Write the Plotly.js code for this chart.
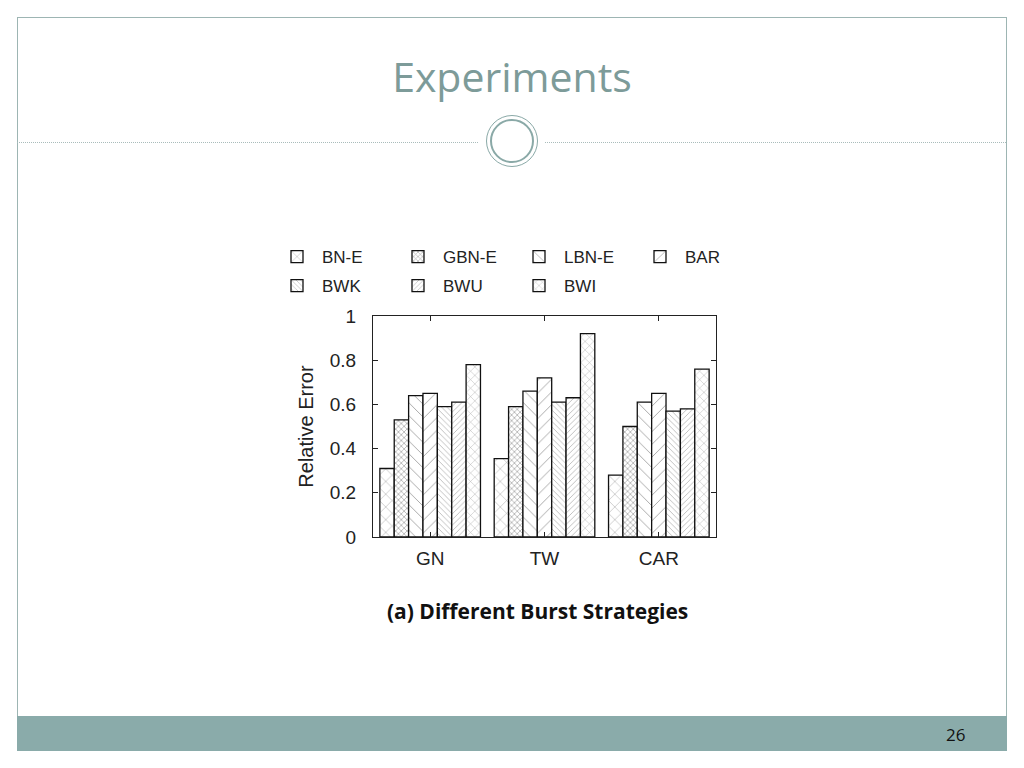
<!DOCTYPE html>
<html>
<head>
<meta charset="utf-8">
<script src="https://cdn.plot.ly/plotly-3.0.1.min.js"></script>
<style>
  html, body { margin: 0; padding: 0; background: #fff; }
  #page { position: relative; width: 1024px; height: 768px; overflow: hidden; }
  .deco { position: absolute; box-sizing: border-box; }
  #chart { position: absolute; left: 0; top: 0; width: 1024px; height: 768px; }
</style>
</head>
<body>
<div id="page">
  <div class="deco" style="left:17px;top:17px;width:990px;height:734px;border:1.5px solid #9db5b3;"></div>
  <div class="deco" style="left:17px;top:142px;width:461px;height:0;border-top:1.5px dotted #a9bcbb;"></div>
  <div class="deco" style="left:545px;top:142px;width:461px;height:0;border-top:1.5px dotted #a9bcbb;"></div>
  <div class="deco" style="left:486px;top:115px;width:52px;height:52px;border-radius:50%;border:1.5px solid #8aa9a7;"></div>
  <div class="deco" style="left:490px;top:119px;width:44px;height:44px;border-radius:50%;border:2px solid #8aa9a7;"></div>
  <div class="deco" style="left:17px;top:716px;width:990px;height:35px;background:#8aabaa;"></div>
  <div id="chart"></div>
</div>
<script>
const categories = ['GN', 'TW', 'CAR'];
const seriesNames = ['BN-E', 'GBN-E', 'LBN-E', 'BAR', 'BWK', 'BWU', 'BWI'];
const valBNE  = [0.31, 0.355, 0.28];
const valGBNE = [0.53, 0.59, 0.50];
const valLBNE = [0.64, 0.66, 0.61];
const valBAR  = [0.65, 0.72, 0.65];
const valBWK  = [0.59, 0.61, 0.57];
const valBWU  = [0.61, 0.63, 0.58];
const valBWI  = [0.78, 0.92, 0.76];
const yTicks = [0, 0.2, 0.4, 0.6, 0.8, 1];
const yTickLabels = ['0', '0.2', '0.4', '0.6', '0.8', '1'];

const seriesValues = [valBNE, valGBNE, valLBNE, valBAR, valBWK, valBWU, valBWI];
const legendRows = ['legend', 'legend', 'legend', 'legend', 'legend2', 'legend2', 'legend2'];
const patterns = [
  {shape: 'x',  size: 9, solidity: 0.12, fgcolor: '#555'},
  {shape: 'x',  size: 4, solidity: 0.35, fgcolor: '#555'},
  {shape: '\\', size: 9, solidity: 0.1, fgcolor: '#444'},
  {shape: '/',  size: 9, solidity: 0.1, fgcolor: '#444'},
  {shape: '\\', size: 4, solidity: 0.2, fgcolor: '#666'},
  {shape: '/',  size: 4, solidity: 0.2, fgcolor: '#666'},
  {shape: 'x',  size: 6, solidity: 0.14, fgcolor: '#555'}
];

const traces = seriesNames.map((name, i) => ({
  type: 'bar',
  name: name,
  x: categories,
  y: seriesValues[i],
  legend: legendRows[i],
  marker: {
    color: '#ffffff',
    line: {color: '#111', width: 1.3},
    pattern: Object.assign({fillmode: 'overlay', bgcolor: '#ffffff'}, patterns[i])
  },
  hoverinfo: 'skip'
}));

const L = 373, R = 716, T = 316, B = 537;
const px = x => (x - L) / (R - L);
const py = y => (B - y) / (B - T);

const axisFont = {family: 'Liberation Sans, Arial, sans-serif', size: 19, color: '#222'};
const titleFont = {family: 'Liberation Sans, Arial, sans-serif', size: 20, color: '#222'};
const legendFont = {family: 'Liberation Sans, Arial, sans-serif', size: 17, color: '#222'};

function legendRow(topPx) {
  return {
    orientation: 'h',
    xref: 'paper', yref: 'paper',
    x: px(272), y: py(topPx), xanchor: 'left', yanchor: 'top',
    entrywidth: 66, entrywidthmode: 'pixels',
    font: legendFont,
    bgcolor: 'rgba(0,0,0,0)',
    traceorder: 'normal',
    itemwidth: 40
  };
}

const layout = {
  width: 1024, height: 768,
  margin: {l: L, r: 1024 - R, t: T, b: 768 - B, pad: 0, autoexpand: false},
  paper_bgcolor: 'rgba(0,0,0,0)',
  plot_bgcolor: '#ffffff',
  barmode: 'group',
  bargap: 0.12,
  bargroupgap: 0,
  showlegend: true,
  title: {
    text: 'Experiments',
    font: {family: 'Open Sans, sans-serif', size: 41, color: '#7d9b99'},
    x: 512 / 1024, xref: 'container', xanchor: 'center',
    y: 1 - 78 / 768, yref: 'container', yanchor: 'middle'
  },
  legend: legendRow(239),
  legend2: legendRow(268),
  xaxis: {
    type: 'category',
    range: [-0.5, 2.5],
    showline: true, linecolor: '#222', linewidth: 1, mirror: 'ticks',
    ticks: 'inside', ticklen: 5, tickcolor: '#222',
    tickfont: axisFont,
    ticklabelstandoff: 4,
    showgrid: false, zeroline: false, fixedrange: true
  },
  yaxis: {
    range: [0, 1],
    tickvals: yTicks, ticktext: yTickLabels,
    showline: true, linecolor: '#222', linewidth: 1, mirror: 'ticks',
    ticks: 'inside', ticklen: 5, tickcolor: '#222',
    tickfont: axisFont,
    ticklabelstandoff: 12,
    showgrid: false, zeroline: false, fixedrange: true,
    title: {text: 'Relative Error', font: titleFont, standoff: 10}
  },
  annotations: [
    {
      text: '<b>(a) Different Burst Strategies</b>',
      xref: 'paper', yref: 'paper', x: px(537), y: py(611),
      xanchor: 'center', yanchor: 'middle', showarrow: false,
      font: {family: 'Open Sans, sans-serif', size: 21, color: '#111'}
    },
    {
      text: '26',
      xref: 'paper', yref: 'paper', x: px(955), y: py(734),
      xanchor: 'center', yanchor: 'middle', showarrow: false,
      font: {family: 'Open Sans, sans-serif', size: 17, color: '#111'}
    }
  ]
};

Plotly.newPlot('chart', traces, layout, {staticPlot: true, displayModeBar: false});
</script>
</body>
</html>
